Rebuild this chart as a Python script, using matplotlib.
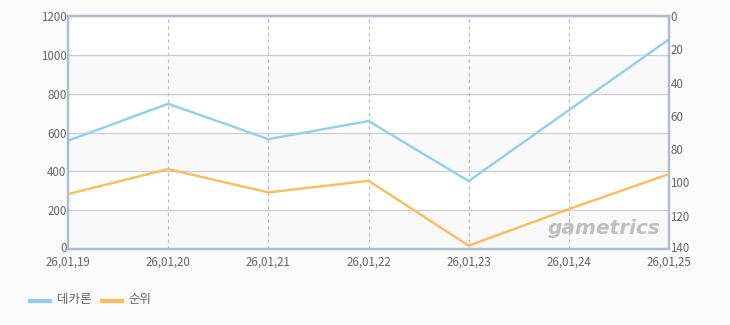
import matplotlib
matplotlib.use("Agg")
import matplotlib.pyplot as plt
import numpy as np

plt.rcParams['font.family'] = ['Noto Sans CJK KR', 'DejaVu Sans']

dates = ["26,01,19", "26,01,20", "26,01,21", "26,01,22", "26,01,23", "26,01,24", "26,01,25"]
players = [558, 748, 566, 659, 350, 715, 1080]
rank = [107, 92, 106, 99, 138, 116, 95]
series_names = ["데카론", "순위"]

fig = plt.figure(figsize=(7.3, 3.25), dpi=100)
fig.patch.set_facecolor('#fbfbfb')
ax = fig.add_axes([68/730, 1-249/325, (669-68)/730, (249-16)/325])
ax.set_facecolor('white')
x = np.arange(len(dates))

# alternating bands
for i, lo in enumerate(range(0, 1200, 200)):
    if i % 2 == 0:
        ax.axhspan(lo, lo+200, color='#f9f9f9', zorder=0, lw=0)

ax.set_xlim(0, len(dates)-1)
ax.set_ylim(0, 1200)
ax.set_yticks(range(0, 1201, 200))
ax.grid(axis='y', color='#cccccc', lw=0.9, zorder=1)
for xi in x[1:-1]:
    ax.axvline(xi, color='#bbbbbb', lw=0.8, ls=(0, (3, 3)), zorder=1)

ax.plot(x, players, color='#8fd0f0', lw=1.7, zorder=3, solid_joinstyle='miter')
ax2 = ax.twinx()
ax2.set_ylim(140, 0)
ax2.set_yticks(range(0, 141, 20))
ax2.plot(x, rank, color='#fbbd5b', lw=1.7, zorder=3, solid_joinstyle='miter')

for a in (ax, ax2):
    for s in a.spines.values():
        s.set_color('#a9bdd4')
        s.set_linewidth(1.6)
    a.tick_params(length=0, labelsize=8.3, labelcolor='#666666', pad=2)

ax.set_xticks(x)
ax.set_xticklabels(dates)
ax.tick_params(axis='x', pad=5)
ax.tick_params(axis='y', pad=1)
ax2.tick_params(axis='y', pad=1)

# nudge the bottom y labels up slightly so they don't collide with date labels
fig.canvas.draw()
import matplotlib.transforms as mtransforms
off = mtransforms.ScaledTranslation(0, 1.5/72, fig.dpi_scale_trans)
for lbl in [ax.get_yticklabels()[0], ax2.get_yticklabels()[-1]]:
    lbl.set_transform(lbl.get_transform() + off)

# watermark
ax.text(0.985, 0.09, "gametrics", transform=ax.transAxes, ha='right', va='center',
        fontsize=14.5, fontstyle='italic', fontweight='bold', color='#c0c0c0',
        family='DejaVu Sans', zorder=2)

# legend
fig.add_artist(plt.Line2D([30/730, 50/730], [1-301/325]*2, color='#8fd0f0', lw=3))
fig.text(57/730, 1-300/325, series_names[0], fontsize=9, color='#666666', va='center')
fig.add_artist(plt.Line2D([102/730, 122/730], [1-301/325]*2, color='#fbbd5b', lw=3))
fig.text(128/730, 1-300/325, series_names[1], fontsize=9, color='#666666', va='center')

fig.savefig("out.png", dpi=100, facecolor=fig.get_facecolor())
